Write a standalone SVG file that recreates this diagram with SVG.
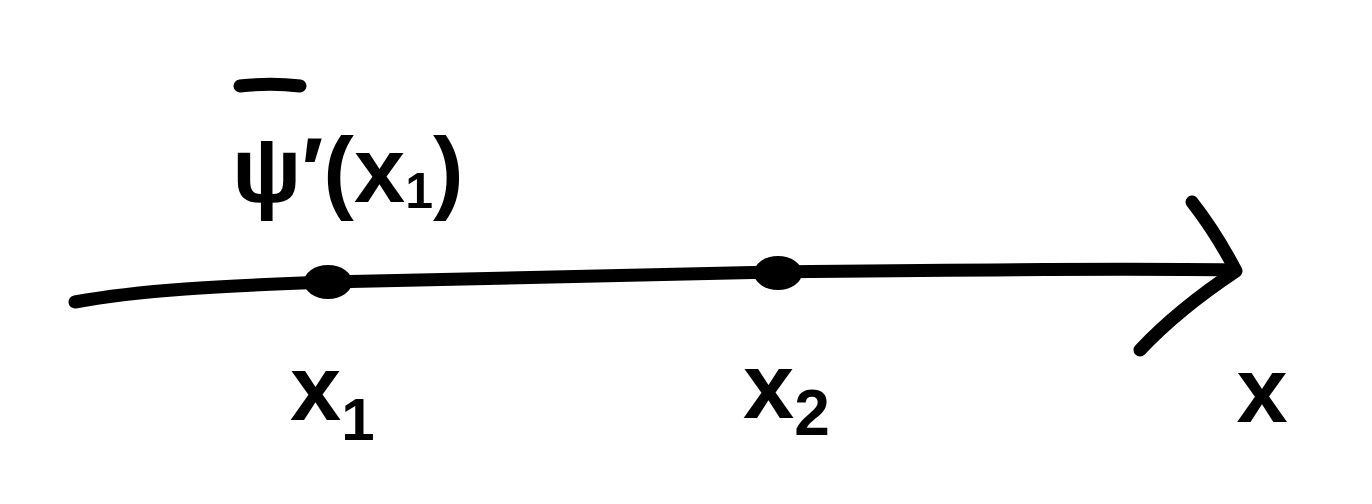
<svg xmlns="http://www.w3.org/2000/svg" width="1372" height="504" viewBox="0 0 1372 504">
<style>
.ink{fill:none;stroke:#000;stroke-width:13;stroke-linecap:round;stroke-linejoin:round}
.lbl{font-family:"Liberation Sans","DejaVu Sans",sans-serif;fill:#000;font-weight:bold}
</style>
<rect width="1372" height="504" fill="#fff"/>
<g id="connectors">
<path id="axis" class="ink" d="M75,302 C140,290 220,286 328,282 C500,278 650,274 778,272 C950,270 1100,268 1233,270"/>
<path id="arrowhead" class="ink" stroke-width="15" d="M1192,202 C1210,225 1225,250 1236,271 C1200,295 1170,318 1140,350"/>
</g>
<g id="node-x1">
<ellipse cx="328" cy="282" rx="24" ry="17" fill="#000"/>
<text class="lbl" x="290" y="420" font-size="92">x<tspan font-size="60" dy="20">1</tspan></text>
</g>
<g id="node-x2">
<ellipse cx="778" cy="273" rx="24" ry="17" fill="#000"/>
<text class="lbl" x="743" y="418" font-size="92">x<tspan font-size="64" dy="17">2</tspan></text>
</g>
<g id="label-x">
<text class="lbl" x="1262" y="422" font-size="92" text-anchor="middle">x</text>
</g>
<g id="label-psi">
<path class="ink" d="M240,86 C258,84 283,84 300,86" stroke-width="8"/>
<text class="lbl" x="232" y="202" font-size="92">ψ′(x<tspan font-size="50" dy="6">1</tspan><tspan dy="-6">)</tspan></text>
</g>
</svg>
